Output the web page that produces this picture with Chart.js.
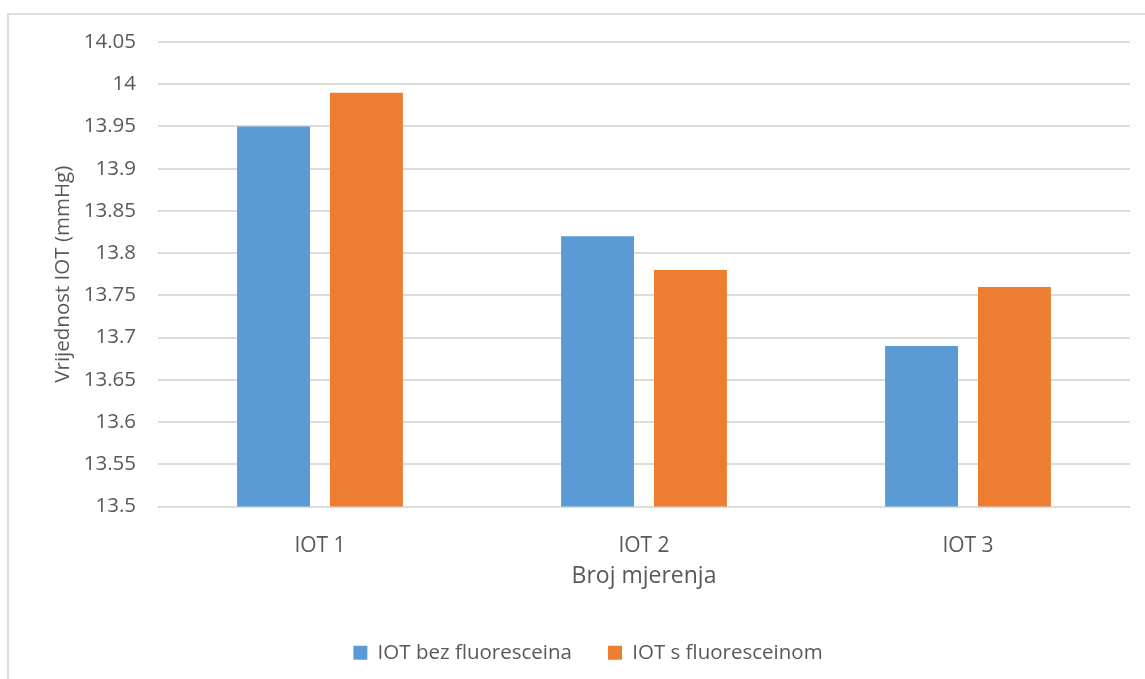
<!DOCTYPE html>
<html lang="hr">
<head>
    <meta charset="UTF-8">
    <title>Vrijednost IOT</title>
    <script src="https://cdn.jsdelivr.net/npm/chart.js"></script>
    <style>
        body { margin: 0; background: white; overflow: hidden; }
        .frame { position: absolute; left: 7px; top: 13px; width: 1200px; height: 700px; border: 2px solid #dedede; }
        .wrap { position: absolute; left: 0; top: 0; width: 1145px; height: 679px; }
    </style>
</head>
<body>
    <div class="frame"></div>
    <div class="wrap"><canvas id="iotChart" width="1145" height="679"></canvas></div>

    <script>
        // values
        const categories = ['IOT 1', 'IOT 2', 'IOT 3'];
        const bezFluoresceina = [13.95, 13.82, 13.69];
        const sFluoresceinom = [13.99, 13.78, 13.76];
        const seriesNames = ['IOT bez fluoresceina', 'IOT s fluoresceinom'];
        const yMin = 13.5, yMax = 14.05, yStep = 0.05;

        const textColor = '#595959';
        const fontFamily = '"Open Sans", sans-serif';

        new Chart(document.getElementById('iotChart'), {
            type: 'bar',
            data: {
                labels: categories,
                datasets: [
                    { label: seriesNames[0], data: bezFluoresceina, backgroundColor: '#5b9bd5' },
                    { label: seriesNames[1], data: sFluoresceinom, backgroundColor: '#ed7d31' }
                ]
            },
            options: {
                responsive: false,
                animation: false,
                categoryPercentage: 0.5735,
                barPercentage: 0.785,
                layout: { padding: { left: 46, right: 15, top: 42, bottom: 6 } },
                plugins: {
                    tooltip: { enabled: false },
                    legend: {
                        position: 'bottom',
                        labels: {
                            color: textColor,
                            font: { family: fontFamily, size: 20.5 },
                            boxWidth: 14,
                            boxHeight: 14,
                            padding: 36
                        }
                    }
                },
                scales: {
                    x: {
                        afterFit: s => { s.height = 100; },
                        grid: { display: false },
                        border: { display: false },
                        ticks: { color: textColor, font: { family: fontFamily, size: 21 }, padding: 19 },
                        title: {
                            display: true,
                            text: 'Broj mjerenja',
                            color: textColor,
                            font: { family: fontFamily, size: 23 },
                            padding: { top: 0, bottom: 16 }
                        }
                    },
                    y: {
                        min: yMin,
                        max: yMax,
                        afterFit: s => { s.width = 112; },
                        grid: { color: '#dcdcdc', lineWidth: 2, drawTicks: false },
                        border: { display: false },
                        ticks: {
                            stepSize: yStep,
                            color: textColor,
                            font: { family: fontFamily, size: 20.5 },
                            padding: 22,
                            callback: v => String(Number(v.toFixed(2)))
                        },
                        title: {
                            display: true,
                            text: 'Vrijednost IOT (mmHg)',
                            color: textColor,
                            font: { family: fontFamily, size: 20.5 },
                            padding: { top: 5, bottom: 0 }
                        }
                    }
                }
            }
        });
    </script>
</body>
</html>
